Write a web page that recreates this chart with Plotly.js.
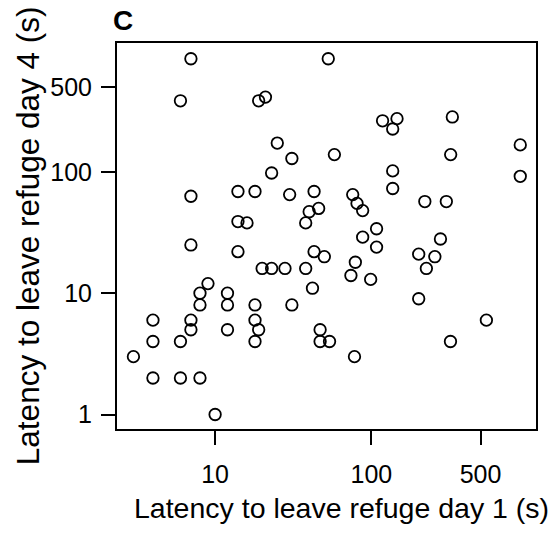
<!DOCTYPE html>
<html>
<head>
<meta charset="utf-8">
<script src="https://cdn.plot.ly/plotly-3.0.1.min.js"></script>
<style>html,body{margin:0;padding:0;background:#fff;}#chart{width:553px;height:535px;}</style>
</head>
<body>
<div id="chart"></div>
<script>
// Latency to leave refuge (s)
const day1 = [7, 53, 6, 19, 21, 25, 31, 23, 7, 14, 18, 30, 43, 46, 40, 38, 14, 16, 58, 118,
  146, 137, 330, 322, 137, 137, 898, 898, 76, 81, 88, 108, 88, 108, 220, 302, 277, 7, 14, 20,
  23, 28, 38, 43, 50, 42, 31, 9, 8, 8, 12, 12, 18, 4, 7, 7, 12, 18, 19, 18,
  47, 47, 54, 4, 6, 3, 4, 6, 8, 10, 79, 74, 99, 201, 255, 225, 201, 545, 321, 78];
const day4 = [857, 857, 386, 386, 414, 173, 129, 98, 63, 69, 69, 65, 69, 50, 47, 38, 39, 38, 139, 264,
  275, 226, 284, 139, 102, 73, 167, 92, 65, 55, 48, 34, 29, 24, 57, 57, 28, 25, 22, 16,
  16, 16, 16, 22, 20, 11, 8, 12, 10, 8, 10, 8, 8, 6, 6, 5, 5, 6, 5, 4,
  5, 4, 4, 4, 4, 3, 2, 2, 2, 1, 18, 14, 13, 21, 20, 16, 9, 6, 4, 3];
const xTicks = [10, 100, 500];
const yTicks = [1, 10, 100, 500];
const xTitle = 'Latency to leave refuge day 1 (s)';
const yTitle = 'Latency to leave refuge day 4 (s)';
const panelLabel = 'C';

const FONT = 'Liberation Sans, Arial, Helvetica, sans-serif';

const trace = {
  x: day1, y: day4, type: 'scatter', mode: 'markers',
  marker: {symbol: 'circle-open', size: 11.5, color: '#000', line: {width: 1.8, color: '#000'}},
  hoverinfo: 'x+y'
};

const axisCommon = {
  type: 'log', showgrid: false, zeroline: false,
  showline: true, mirror: true, linecolor: '#000', linewidth: 2,
  ticks: 'outside', ticklen: 14, tickwidth: 2, tickcolor: '#000',
  tickfont: {family: FONT, size: 25, color: '#000'},
  tickmode: 'array'
};

const layout = {
  width: 553, height: 535,
  margin: {l: 117, r: 16.5, t: 43, b: 105.7, pad: 0},
  paper_bgcolor: '#fff', plot_bgcolor: '#fff',
  showlegend: false,
  font: {family: FONT, color: '#000'},
  xaxis: Object.assign({}, axisCommon, {
    range: [0.372, 3.054], tickvals: xTicks, ticktext: xTicks.map(String),
    ticklabelstandoff: 8
  }),
  yaxis: Object.assign({}, axisCommon, {
    range: [-0.1195, 3.063], tickvals: yTicks, ticktext: yTicks.map(String),
    ticklabelstandoff: 4
  }),
  annotations: [
    {text: xTitle, xref: 'paper', yref: 'paper', x: 0.536, y: -0.204,
     xanchor: 'center', yanchor: 'middle', showarrow: false,
     font: {family: FONT, size: 28.5, color: '#000'}},
    {text: yTitle, xref: 'paper', yref: 'paper', x: -0.212, y: 0.5,
     xanchor: 'center', yanchor: 'middle', textangle: -90, showarrow: false,
     font: {family: FONT, size: 31.5, color: '#000'}},
    {text: '<b>' + panelLabel + '</b>', xref: 'paper', yref: 'paper', x: -0.014, y: 1.058,
     xanchor: 'left', yanchor: 'middle', showarrow: false,
     font: {family: FONT, size: 28, color: '#000'}}
  ]
};

Plotly.newPlot('chart', [trace], layout, {staticPlot: true, displayModeBar: false});
</script>
</body>
</html>
